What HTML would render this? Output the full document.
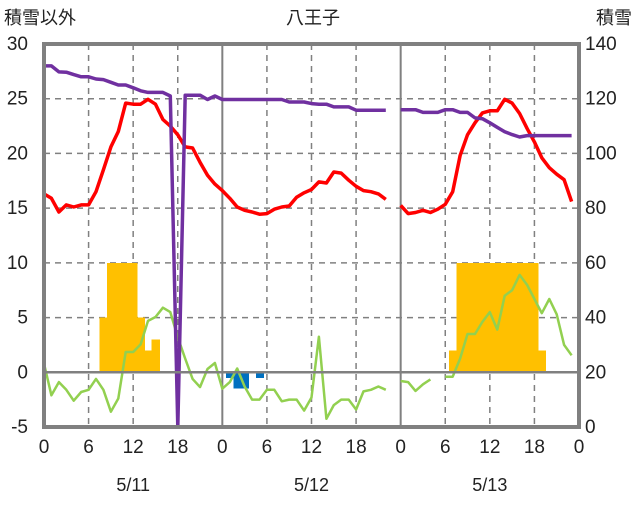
<!DOCTYPE html>
<html><head><meta charset="utf-8"><style>
body{margin:0;background:#fff;}
svg text{font-family:"Liberation Sans","Noto Sans CJK JP",sans-serif;fill:#222;}
</style></head><body>
<svg id="chart" width="636" height="501" xmlns="http://www.w3.org/2000/svg">
<g id="grid"></g>
<g id="bars" shape-rendering="crispEdges"></g>
<g id="lines"></g>
<g id="axes"></g>
<text x="313" y="24" font-size="18" text-anchor="middle">八王子</text>
<text x="4" y="24" font-size="18">積雪以外</text>
<text x="632" y="24" font-size="18" text-anchor="end">積雪</text>
</svg>
<script>
const hourTicks=["0","6","12","18","0","6","12","18","0","6","12","18","0"];
const dateLabels=["5/11","5/12","5/13"];
const leftTicks=[30,25,20,15,10,5,0,-5];
const rightTicks=[140,120,100,80,60,40,20,0];
const temperature=[16.3,15.9,14.65,15.3,15.1,15.3,15.3,16.5,18.5,20.6,22,24.6,24.5,24.5,24.95,24.5,23.1,22.5,21.7,20.6,20.5,19.2,18,17.2,16.6,15.9,15.1,14.8,14.65,14.45,14.5,14.9,15.1,15.2,16,16.4,16.7,17.4,17.3,18.3,18.2,17.55,17,16.6,16.5,16.3,15.8,null,15.25,14.5,14.6,14.8,14.6,14.9,15.35,16.5,19.8,21.7,22.8,23.7,23.9,23.9,24.95,24.6,23.65,22.3,21.05,19.6,18.7,18.1,17.6,15.6];
const snowDepth=[132,132,129.8,129.7,128.8,128,128,127.2,127,126,125,125,124,122.9,122.3,122.3,122.3,121,0,121.3,121.3,121.3,119.7,121,119.7,119.7,119.7,119.7,119.7,119.7,119.7,119.7,119.7,118.8,118.8,118.8,118.2,118,118,117,117,117,115.8,115.8,115.8,115.8,115.8,null,116,116,116,115,115,115,116,116,115,115,113,112.7,111.2,109.5,107.9,106.9,106,106.5,106.5,106.5,106.5,106.5,106.5,106.5];
const windOrOther=[0.8,-2.1,-0.9,-1.6,-2.6,-1.8,-1.6,-0.6,-1.6,-3.6,-2.4,1.85,1.85,2.55,4.7,5.05,5.9,5.5,3.2,1.25,-0.6,-1.35,0.3,0.85,-1.5,-0.9,0.35,-1.3,-2.5,-2.5,-1.6,-1.6,-2.65,-2.5,-2.5,-3.5,-2.3,3.25,-4.25,-3,-2.5,-2.5,-3.4,-1.75,-1.6,-1.3,-1.6,null,-0.8,-0.9,-1.7,-1.1,-0.65,null,-0.4,-0.4,1.25,3.5,3.5,4.6,5.5,3.9,7.0,7.5,8.9,8.0,6.7,5.4,6.7,5.3,2.5,1.55];
const precipHours=[8,9,10,11,12,13,14,15,55,56,57,58,59,60,61,62,63,64,65,66,67];
const precipValues=[5,10,10,10,10,5,2,3,2,10,10,10,10,10,10,10,10,10,10,10,2];
const negHours=[25,26,27,29];
const negValues=[-0.5,-1.5,-1.5,-0.5];

const X0=44,X1=579,Y0=44,Y1=427;
const xs=h=>X0+(X1-X0)*h/72;
const yL=v=>Y1-(v+5)*(Y1-Y0)/35;
const yR=v=>Y1-v*(Y1-Y0)/140;
const NS="http://www.w3.org/2000/svg";
function mk(tag,parent,attrs){const e=document.createElementNS(NS,tag);for(const k in attrs)e.setAttribute(k,attrs[k]);parent.appendChild(e);return e;}
const grid=document.getElementById('grid'),bars=document.getElementById('bars'),lines=document.getElementById('lines'),axes=document.getElementById('axes');

leftTicks.forEach(v=>{if(v===30||v===-5||v===0)return;
 const l=mk('line',grid,{x1:X0,x2:X1,y1:yL(v),y2:yL(v),stroke:'#808080','stroke-width':1.5,'stroke-dasharray':'6 5'});
 });
for(let i=1;i<12;i++){const x=xs(i*6);const day=i%4===0;
 const l=mk('line',grid,{x1:x,x2:x,y1:Y0,y2:Y1,stroke:'#808080','stroke-width':day?2:1.5,'stroke-dasharray':day?'none':'6 5'});
 }

const bw=xs(1)-X0;
precipHours.forEach((h,i)=>{const v=precipValues[i];
 const r=mk('rect',bars,{x:xs(h-0.5),y:yL(v),width:bw+0.6,height:yL(0)-yL(v),fill:'#FFC000'});
 });
negHours.forEach((h,i)=>{const v=negValues[i];
 const r=mk('rect',bars,{x:xs(h-0.5),y:yL(0),width:bw+0.6,height:yL(v)-yL(0),fill:'#0070C0'});
 });

const zl=mk('line',axes,{x1:X0,x2:X1,y1:yL(0),y2:yL(0),stroke:'#808080','stroke-width':2.5});


function path(arr,fy){let d='',pen=false;arr.forEach((v,h)=>{if(v===null){pen=false;return;}d+=(pen?'L':'M')+xs(h).toFixed(1)+','+fy(v).toFixed(1);pen=true;});return d;}
const g=mk('path',lines,{d:path(windOrOther,yL),fill:'none',stroke:'#92D050','stroke-width':2.5,'stroke-linejoin':'round'});

const r=mk('path',lines,{d:path(temperature,yL),fill:'none',stroke:'#FF0000','stroke-width':3.5,'stroke-linejoin':'round'});

const p=mk('path',lines,{d:path(snowDepth,yR),fill:'none',stroke:'#7030A0','stroke-width':3.5,'stroke-linejoin':'round'});


const fr=mk('rect',axes,{x:X0,y:Y0,width:X1-X0,height:Y1-Y0,fill:'none',stroke:'#808080','stroke-width':4});


leftTicks.forEach(v=>{const t=mk('text',axes,{x:28,y:yL(v)+6,'font-size':19,'text-anchor':'end'});t.textContent=v;
 });
rightTicks.forEach(v=>{const t=mk('text',axes,{x:585,y:yR(v)+6,'font-size':19});t.textContent=v;
 });
hourTicks.forEach((s,i)=>{const t=mk('text',axes,{x:xs(i*6),y:453,'font-size':19,'text-anchor':'middle'});t.textContent=s;
 });
dateLabels.forEach((s,i)=>{const t=mk('text',axes,{x:xs(i*24+12),y:491,'font-size':18,'text-anchor':'middle'});t.textContent=s;
 });
</script>
</body></html>
